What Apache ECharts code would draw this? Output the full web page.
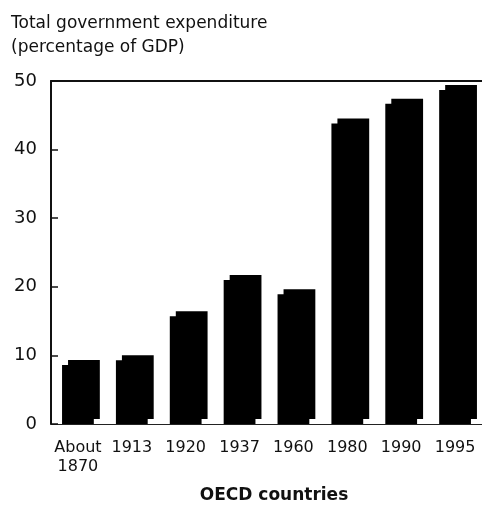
<!DOCTYPE html>
<html>
<head>
<meta charset="utf-8">
<script src="https://cdn.jsdelivr.net/npm/echarts@6/dist/echarts.min.js"></script>
<style>
html,body{margin:0;padding:0;background:#fff;}
#chart{width:482px;height:506px;}
</style>
</head>
<body>
<div id="chart"></div>
<script>
var categories = ['About\n1870', '1913', '1920', '1937', '1960', '1980', '1990', '1995'];
var expenditure = [8.6, 9.3, 15.7, 21.0, 18.9, 43.8, 46.7, 48.7];
var yTicks = [0, 10, 20, 30, 40, 50];
var titleText = 'Total government expenditure\n(percentage of GDP)';
var xName = 'OECD countries';

var FONT = '"DejaVu Sans", Verdana, sans-serif';
var chart = echarts.init(document.getElementById('chart'), null, {renderer: 'canvas'});

var barData = expenditure.map(function (v, i) { return [i, v]; });

chart.setOption({
  animation: false,
  backgroundColor: '#fff',
  title: {
    text: titleText,
    left: 11,
    top: 12,
    padding: 0,
    textStyle: {fontFamily: FONT, fontSize: 17, fontWeight: 'normal', color: '#111', lineHeight: 24}
  },
  grid: {left: 51, right: 0, top: 81, bottom: 82, containLabel: false},
  xAxis: [{
    type: 'category',
    data: categories,
    position: 'bottom',
    axisLine: {show: true, lineStyle: {color: '#222', width: 1}},
    axisTick: {show: false},
    axisLabel: {fontFamily: FONT, fontSize: 16, color: '#111', margin: 14, lineHeight: 19, interval: 0}
  }, {
    type: 'category',
    data: categories,
    position: 'top',
    axisLine: {show: true, lineStyle: {color: '#111', width: 2}},
    axisTick: {show: false},
    axisLabel: {show: false}
  }],
  yAxis: {
    type: 'value',
    min: yTicks[0],
    max: yTicks[yTicks.length - 1],
    interval: 10,
    axisLine: {show: true, lineStyle: {color: '#111', width: 2}},
    axisTick: {show: true, inside: true, length: 7, lineStyle: {color: '#111', width: 1.5}},
    splitLine: {show: false},
    axisLabel: {fontFamily: FONT, fontSize: 18, color: '#111', margin: 14}
  },
  graphic: [{
    type: 'text',
    x: 274,
    y: 496,
    style: {text: xName, font: 'bold 17px ' + FONT, fill: '#111', textAlign: 'center', textVerticalAlign: 'middle'}
  }],
  series: [{
    type: 'custom',
    xAxisIndex: 0,
    data: barData,
    encode: {x: 0, y: 1},
    clip: false,
    renderItem: function (params, api) {
      var top = api.coord([api.value(0), api.value(1)]);
      var base = api.coord([api.value(0), 0]);
      var band = api.size([1, 0])[0];
      var w = band * 0.59;
      var x = top[0] - w / 2;
      var h = base[1] - top[1];
      var dx = 6, dy = 5;
      return {
        type: 'group',
        children: [{
          type: 'rect',
          shape: {x: x, y: top[1], width: w, height: h},
          style: {fill: '#000'}
        }, {
          type: 'rect',
          shape: {x: x + dx, y: top[1] - dy, width: w, height: h},
          style: {fill: '#000'}
        }]
      };
    }
  }]
});
</script>
</body>
</html>
